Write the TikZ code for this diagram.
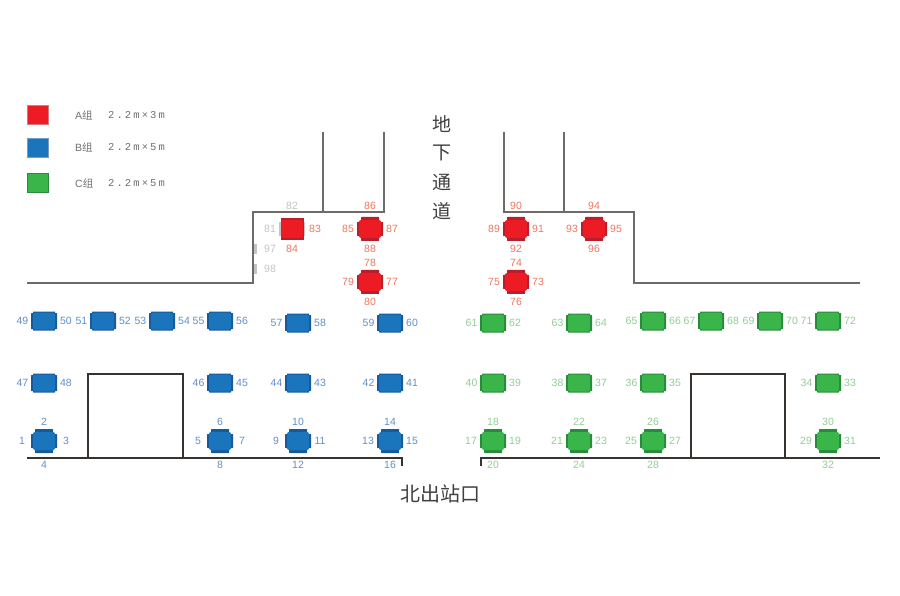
\documentclass[tikz,border=0pt]{standalone}
\usepackage{fontspec}
\setmainfont{Liberation Sans}
\newfontfamily\cjk{Noto Sans CJK SC}
\newfontfamily\legendfont[LetterSpace=20]{Liberation Mono}
\usetikzlibrary{calc, positioning}
\definecolor{redmain}{HTML}{ED1C24}
\definecolor{reddark}{HTML}{B5202A}
\definecolor{redtext}{HTML}{F0755F}
\definecolor{bluemain}{HTML}{1B75BC}
\definecolor{bluedark}{HTML}{175A9C}
\definecolor{bluetext}{HTML}{5F8FCB}
\definecolor{greenmain}{HTML}{39B54A}
\definecolor{greendark}{HTML}{288A3C}
\definecolor{greentext}{HTML}{8FCF92}
\definecolor{greytext}{HTML}{C4C4C4}
\definecolor{wallgrey}{HTML}{6E6A67}
\definecolor{wallblack}{HTML}{38332F}
\definecolor{legendtext}{HTML}{707070}
\tikzset{
  stallbody/.style={rectangle, rounded corners=2pt, draw=none, inner sep=0pt, minimum width=22pt, minimum height=18pt},
  seatwide/.style={rectangle, rounded corners=0.5pt, draw=none, inner sep=0pt, minimum width=26pt, minimum height=14pt},
  seattall/.style={rectangle, rounded corners=0.5pt, draw=none, inner sep=0pt, minimum width=18pt, minimum height=24pt},
  seatnum/.style={inner sep=0pt, font=\fontsize{10.5}{10.5}\selectfont}
}
% table with a seat on the left and on the right
\newcommand{\pairstall}[5]{
  \node[seatwide, minimum height=16pt, fill=#5dark] (w#3) at (#1,#2) {};
  \node[seattall, minimum height=19pt, minimum width=22pt, fill=#5dark] (t#3) at (#1,#2) {};
  \node[stallbody, minimum height=17pt, fill=#5main] (s#3) at (#1,#2) {};
  \node[seatnum, text=#5text] (n#3) at ($(s#3)+(-21.5,0)$) {#3};
  \node[seatnum, text=#5text] (n#4) at ($(s#3)+(22,0)$) {#4};
}
% table with seats on all four sides
\newcommand{\fourstall}[9]{
  \node[seatwide, fill=#7dark] (w#3) at (#1,#2) {};
  \node[seattall, fill=#7dark] (t#3) at (#1,#2) {};
  \node[stallbody, fill=#7main] (s#3) at (#1,#2) {};
  \node[seatnum, text=#7text] (n#3) at ($(s#3)+(-22,0)$) {#3};
  \node[seatnum, text=#7text] (n#4) at ($(s#3)+(0,#8)$) {#4};
  \node[seatnum, text=#7text] (n#5) at ($(s#3)+(22,0)$) {#5};
  \node[seatnum, text=#7text] (n#6) at ($(s#3)+(0,#9)$) {#6};
}
\begin{document}
\begin{tikzpicture}[
  x=1pt, y=-1pt,
  wall/.style={line width=2pt, wallgrey},
  kerb/.style={line width=2.2pt, wallblack},
  legendbox/.style={rectangle, inner sep=0pt, minimum width=21pt, minimum height=19pt, line width=0.8pt},
  legendgroup/.style={anchor=west, inner sep=0pt, text=legendtext, font=\fontsize{10.5}{10.5}\selectfont},
  signtext/.style={inner sep=0pt, text=black!75, font=\cjk\fontsize{19}{19}\selectfont}
]
\useasboundingbox (0,0) rectangle (900,596);

% Legend
\node[legendbox, fill=redmain, draw=reddark!60] (keyA) at (37.5,114.5) {};
\node[legendbox, fill=bluemain, draw=bluedark!60] (keyB) at (37.5,147.5) {};
\node[legendbox, fill=greenmain, draw=greendark] (keyC) at (37.5,182.5) {};
\node[legendgroup] (textA) at (75,115) {A{\cjk 组}};
\node[legendgroup] (textB) at (75,147.5) {B{\cjk 组}};
\node[legendgroup] (textC) at (75,183) {C{\cjk 组}};
\node[legendgroup] (sizeA) at (108,115) {\legendfont 2.2m×3m};
\node[legendgroup] (sizeB) at (108,147.5) {\legendfont 2.2m×5m};
\node[legendgroup] (sizeC) at (108,183) {\legendfont 2.2m×5m};

% Underground passage walls
\draw[wall] (27,283) -- (253,283) -- (253,212) -- (384,212) -- (384,132);
\draw[wall] (323,132) -- (323,212);
\draw[wall] (504,132) -- (504,212) -- (634,212) -- (634,283) -- (860,283);
\draw[wall] (564,132) -- (564,212);

% Street line and the two blocks
\draw[kerb] (27,458) -- (402,458) -- (402,466);
\draw[kerb] (88,458) -- (88,374) -- (183,374) -- (183,458);
\draw[kerb] (481,466) -- (481,458) -- (880,458);
\draw[kerb] (691,458) -- (691,374) -- (785,374) -- (785,458);

% Signs
\foreach \y/\ch in {124/地, 153/下, 182/通, 211/道}
  \node[signtext] (sign\ch) at (442,\y) {\ch};
\node[signtext, font=\cjk\fontsize{20}{20}\selectfont] (exit) at (440.5,494) {北出站口};

% Group A
\node[rectangle, fill=greytext, inner sep=0pt, minimum width=3pt, minimum height=10pt] (mark97) at (255.5,249) {};
\node[rectangle, fill=greytext, inner sep=0pt, minimum width=3pt, minimum height=10pt] (mark98) at (255.5,269) {};
\node[seatwide, fill=greytext] (w81) at (292,229) {};
\node[rectangle, fill=reddark, inner sep=0pt, minimum width=23pt, minimum height=22pt, xshift=0.5pt] (t81) at (292,229) {};
\node[stallbody, fill=redmain] (s81) at (292,229) {};
\node[seatnum, text=greytext] (n81) at ($(s81)+(-22,0)$) {81};
\node[seatnum, text=greytext] (n82) at ($(s81)+(0,-23)$) {82};
\node[seatnum, text=redtext] (n83) at ($(s81)+(23,0)$) {83};
\node[seatnum, text=redtext] (n84) at ($(s81)+(0,19.5)$) {84};
\node[seatnum, text=greytext] (n97) at (270,249) {97};
\node[seatnum, text=greytext] (n98) at (270,268.5) {98};
\fourstall{370}{229}{85}{86}{87}{88}{red}{-23}{19.5}
\fourstall{370}{282}{79}{78}{77}{80}{red}{-19}{20}
\fourstall{516}{229}{89}{90}{91}{92}{red}{-23}{19.5}
\fourstall{594}{229}{93}{94}{95}{96}{red}{-23}{19.5}
\fourstall{516}{282}{75}{74}{73}{76}{red}{-19}{20}

% Group B
\foreach \x/\y/\l/\r in {44/321/49/50, 103/321/51/52, 162/321/53/54, 220/321/55/56,
  298/323/57/58, 390/323/59/60, 44/383/47/48, 220/383/46/45, 298/383/44/43, 390/383/42/41}
  \pairstall{\x}{\y}{\l}{\r}{blue};
\fourstall{44}{441}{1}{2}{3}{4}{blue}{-19}{24}
\fourstall{220}{441}{5}{6}{7}{8}{blue}{-19}{24}
\fourstall{298}{441}{9}{10}{11}{12}{blue}{-19}{24}
\fourstall{390}{441}{13}{14}{15}{16}{blue}{-19}{24}

% Group C
\foreach \x/\y/\l/\r in {493/323/61/62, 579/323/63/64, 653/321/65/66, 711/321/67/68,
  770/321/69/70, 828/321/71/72, 493/383/40/39, 579/383/38/37, 653/383/36/35, 828/383/34/33}
  \pairstall{\x}{\y}{\l}{\r}{green};
\fourstall{493}{441}{17}{18}{19}{20}{green}{-19}{24}
\fourstall{579}{441}{21}{22}{23}{24}{green}{-19}{24}
\fourstall{653}{441}{25}{26}{27}{28}{green}{-19}{24}
\fourstall{828}{441}{29}{30}{31}{32}{green}{-19}{24}

\end{tikzpicture}
\end{document}
